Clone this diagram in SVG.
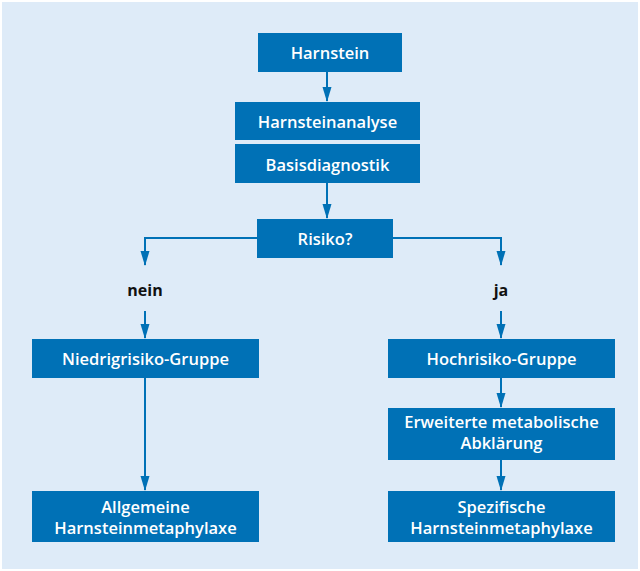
<svg xmlns="http://www.w3.org/2000/svg" width="640" height="571" viewBox="0 0 640 571">
  <style>
    .box { fill: #0071b6; }
    .lbl { font-family: "Open Sans", "Noto Sans", "Liberation Sans", sans-serif; font-weight: 600; font-size: 16.5px; fill: #ffffff; text-anchor: middle; }
    .branch { font-family: "Open Sans", "Noto Sans", "Liberation Sans", sans-serif; font-weight: 700; font-size: 16px; fill: #111111; text-anchor: middle; }
    .conn { fill: none; stroke: #0071b6; stroke-width: 2; marker-end: url(#arrow); }
  </style>
  <defs>
    <marker id="arrow" markerUnits="userSpaceOnUse" viewBox="0 0 15 10" markerWidth="15" markerHeight="10" refX="14" refY="5" orient="auto">
      <path d="M0,0.5 L15,5 L0,9.5 z" fill="#0071b6"/>
    </marker>
  </defs>

  <!-- panel background -->
  <rect x="2" y="2" width="636" height="567" fill="#deebf8"/>

  <!-- connectors -->
  <g id="connectors">
    <path class="conn" d="M327,72 V101"/>
    <path class="conn" d="M327,183 V218"/>
    <path class="conn" d="M257,238 H145 V265"/>
    <path class="conn" d="M393,238 H501 V265"/>
    <path class="conn" d="M145,311 V338"/>
    <path class="conn" d="M501,311 V338"/>
    <path class="conn" d="M145,378 V490"/>
    <path class="conn" d="M501,378 V407"/>
    <path class="conn" d="M501,460 V490"/>
  </g>

  <!-- nodes -->
  <g id="harnstein">
    <rect class="box" x="258" y="33" width="144" height="39"/>
    <text class="lbl" x="330" y="59">Harnstein</text>
  </g>
  <g id="harnsteinanalyse">
    <rect class="box" x="235" y="102" width="185" height="38"/>
    <text class="lbl" x="327.5" y="128">Harnsteinanalyse</text>
  </g>
  <g id="basisdiagnostik">
    <rect class="box" x="235" y="144" width="185" height="39"/>
    <text class="lbl" x="327.5" y="171">Basisdiagnostik</text>
  </g>
  <g id="risiko">
    <rect class="box" x="257" y="219" width="136" height="39"/>
    <text class="lbl" x="325" y="245">Risiko?</text>
  </g>
  <g id="nein">
    <text class="branch" x="145" y="296">nein</text>
  </g>
  <g id="ja">
    <text class="branch" x="501" y="296">ja</text>
  </g>
  <g id="niedrigrisiko">
    <rect class="box" x="32" y="339" width="227" height="39"/>
    <text class="lbl" x="145.5" y="365">Niedrigrisiko-Gruppe</text>
  </g>
  <g id="allgemeine">
    <rect class="box" x="32" y="491" width="227" height="51"/>
    <text class="lbl" x="145.5" y="513">Allgemeine</text>
    <text class="lbl" x="145.5" y="534">Harnsteinmetaphylaxe</text>
  </g>
  <g id="hochrisiko">
    <rect class="box" x="388" y="339" width="227" height="39"/>
    <text class="lbl" x="501.5" y="365">Hochrisiko-Gruppe</text>
  </g>
  <g id="erweiterte">
    <rect class="box" x="388" y="408" width="227" height="52"/>
    <text class="lbl" x="501.5" y="428">Erweiterte metabolische</text>
    <text class="lbl" x="501.5" y="449">Abklärung</text>
  </g>
  <g id="spezifische">
    <rect class="box" x="388" y="491" width="227" height="51"/>
    <text class="lbl" x="501.5" y="513">Spezifische</text>
    <text class="lbl" x="501.5" y="534">Harnsteinmetaphylaxe</text>
  </g>
</svg>
